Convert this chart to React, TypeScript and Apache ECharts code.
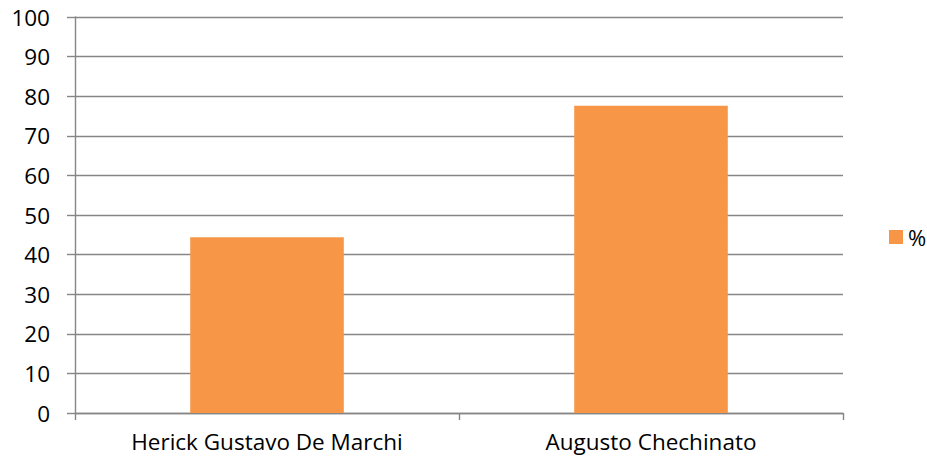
import React, { useEffect, useRef } from "react";
import * as echarts from "echarts";

const categories = ["Herick Gustavo De Marchi", "Augusto Chechinato"];
const seriesName = "%";
const values = [44.4, 77.6];
const yMin = 0;
const yMax = 100;
const yInterval = 10;

const FONT = "'Open Sans', 'Liberation Sans', sans-serif";
const GRAY = "#868686";

export default function App() {
  const ref = useRef<HTMLDivElement>(null);
  useEffect(() => {
    if (!ref.current) return;
    const chart = echarts.init(ref.current, undefined, { renderer: "svg" });
    chart.setOption({
      animation: false,
      backgroundColor: "#ffffff",
      textStyle: { fontFamily: FONT },
      grid: { left: 75, right: 84, top: 17, bottom: 52, containLabel: false },
      legend: {
        data: [seriesName],
        left: 884,
        top: 221,
        itemWidth: 14,
        itemHeight: 14,
        icon: "rect",
        textStyle: { fontFamily: FONT, fontSize: 22, color: "#000" },
        itemGap: 4,
      },
      xAxis: {
        type: "category",
        data: categories,
        axisLine: { show: true, lineStyle: { color: GRAY, width: 1.4 } },
        axisTick: { show: true, length: 7, alignWithLabel: false, lineStyle: { color: GRAY, width: 1.4 } },
        axisLabel: { fontFamily: FONT, fontSize: 22.5, color: "#000", margin: 17 },
      },
      yAxis: {
        type: "value",
        min: yMin,
        max: yMax,
        interval: yInterval,
        axisLine: { show: true, lineStyle: { color: GRAY, width: 1.4 } },
        axisTick: { show: true, length: 8, lineStyle: { color: GRAY, width: 1.4 } },
        axisLabel: { fontFamily: FONT, fontSize: 22.5, color: "#000", margin: 25 },
        splitLine: { show: true, lineStyle: { color: GRAY, width: 1.4 } },
      },
      series: [
        {
          name: seriesName,
          type: "bar",
          data: values,
          barCategoryGap: "60%",
          itemStyle: { color: "#F79646" },
        },
      ],
    });
    return () => chart.dispose();
  }, []);
  return <div ref={ref} style={{ width: 927, height: 465, position: "absolute", left: 0, top: 0 }} />;
}
